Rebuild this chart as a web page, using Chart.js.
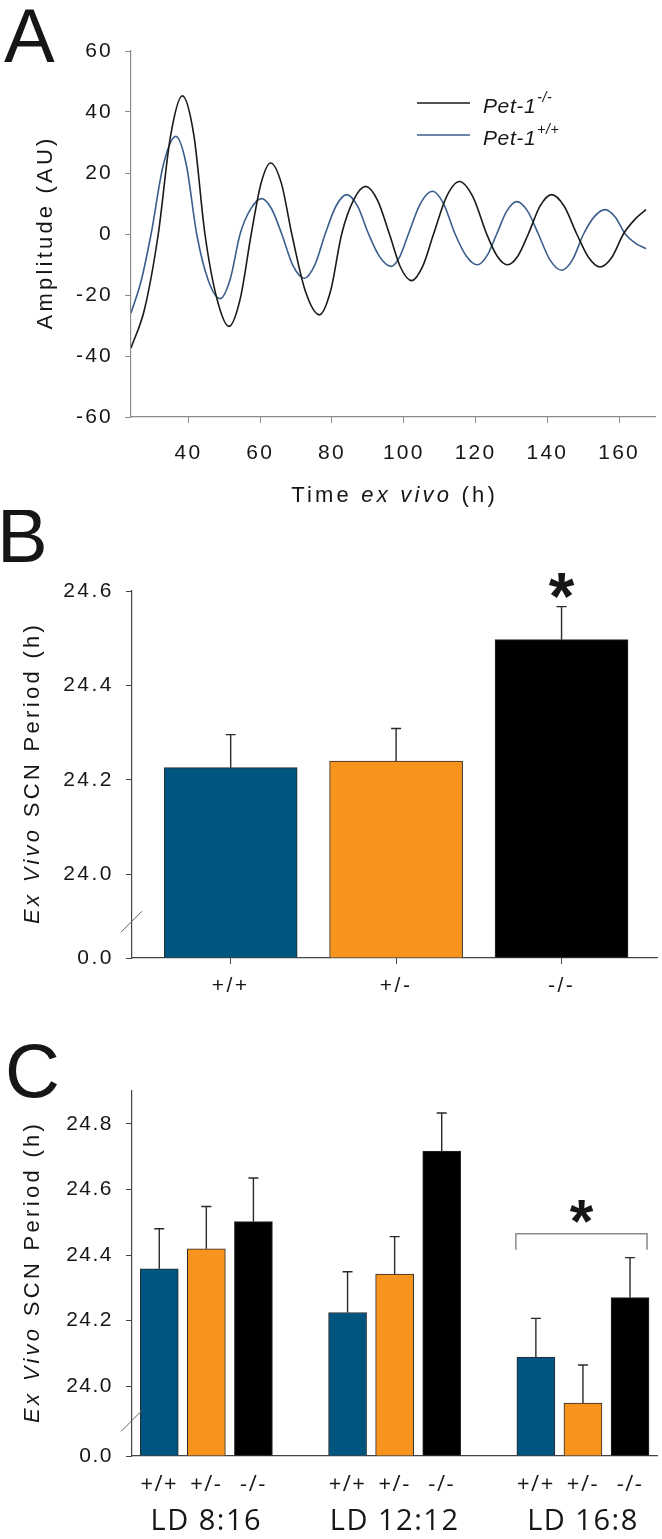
<!DOCTYPE html>
<html>
<head>
<meta charset="utf-8">
<script src="https://cdn.jsdelivr.net/npm/chart.js@4.4.1/dist/chart.umd.min.js"></script>
<style>
html,body{margin:0;padding:0;background:#fff;}
#wrap{position:relative;width:662px;height:1539px;overflow:hidden;}
.pnl{position:absolute;left:0;width:662px;}
canvas{display:block;}
</style>
</head>
<body>
<div id="wrap">
  <div class="pnl" style="top:0;height:510px"><canvas id="cA" width="662" height="510"></canvas></div>
  <div class="pnl" style="top:510px;height:500px"><canvas id="cB" width="662" height="500"></canvas></div>
  <div class="pnl" style="top:1010px;height:529px"><canvas id="cC" width="662" height="529"></canvas></div>
</div>
<script>
// ---------------- Panel A data ----------------
const aTimeKO = [24.0, 27.8, 31.6, 35.0, 38.3, 41.5, 44.6, 48.0, 51.3, 54.4, 57.5, 60.2, 62.9, 65.9, 68.8, 72.6, 76.5, 79.6, 82.7, 86.0, 89.4, 92.7, 96.0, 99.1, 102.2, 105.2, 108.3, 111.9, 115.5, 119.3, 123.1, 126.0, 128.9, 131.8, 134.7, 138.0, 141.2, 144.7, 148.2, 151.5, 154.7, 158.0, 161.2, 164.4, 167.5];
const aAmpKO  = [-37.4, -24.5, 0, 32.0, 45.3, 32.5, 0, -21.5, -30.3, -21.4, 0, 16.5, 23.3, 16.6, 0, -18.8, -26.5, -18.7, 0, 11.1, 15.6, 11.0, 0, -10.9, -15.3, -10.8, 0, 12.2, 17.2, 12.1, 0, -7.2, -10.1, -7.2, 0, 9.2, 12.9, 9.1, 0, -7.7, -10.8, -7.6, 0, 4.8, 8.0];
const aTimeWT = [24.0, 26.8, 29.6, 33.0, 36.5, 39.4, 42.3, 45.5, 48.8, 51.6, 54.4, 57.4, 60.4, 63.2, 66.0, 69.1, 72.3, 75.2, 78.1, 81.1, 84.1, 87.1, 90.2, 93.3, 96.5, 98.9, 101.3, 104.6, 108.0, 111.1, 114.3, 117.4, 120.5, 123.2, 125.9, 128.7, 131.5, 134.5, 137.5, 140.7, 144.0, 147.0, 150.1, 153.1, 156.1, 158.9, 161.7, 164.6, 167.5];
const aAmpWT  = [-25.9, -15.5, 0, 22.6, 32.0, 22.8, 0, -15.1, -21.2, -15.0, 0, 8.3, 11.6, 8.2, 0, -10.3, -14.5, -10.2, 0, 9.1, 12.9, 9.2, 0, -7.5, -10.6, -7.4, 0, 9.9, 14.0, 9.9, 0, -7.2, -10.1, -7.1, 0, 7.5, 10.6, 7.5, 0, -8.4, -11.9, -8.5, 0, 5.7, 8.0, 5.6, 0, -3.1, -4.8];
const aXTicks = [40, 60, 80, 100, 120, 140, 160];
const aYTicks = [-60, -40, -20, 0, 20, 40, 60];
const aSeriesNames = ['Pet-1', 'Pet-1'];
const aSeriesSup = ['-/-', '+/+'];

// ---------------- Panel B data ----------------
const genotypes = ['+/+', '+/-', '-/-'];
const bPeriod = [24.226, 24.240, 24.497];
const bSem = [0.070, 0.069, 0.070];
const bYTicks = [24.0, 24.2, 24.4, 24.6];
const bBreakBase = 23.823;      // value shown as "0.0" at the broken axis bottom
const bStarBars = [2];          // bars marked significant

// ---------------- Panel C data ----------------
const cGroups = ['LD 8:16', 'LD 12:12', 'LD 16:8'];
const cPeriodWT  = [24.358, 24.225, 24.089];
const cPeriodHet = [24.419, 24.342, 23.949];
const cPeriodKO  = [24.502, 24.717, 24.270];
const cSemWT  = [0.122, 0.124, 0.118];
const cSemHet = [0.129, 0.114, 0.116];
const cSemKO  = [0.133, 0.116, 0.122];
const cYTicks = [24.0, 24.2, 24.4, 24.6, 24.8];
const cBreakBase = 23.7875;
const cYMax = 24.9;
const cStarGroup = 2;
const breakTickLabel = '0.0';

// ---------------- styles ----------------
const FONT = "'Liberation Sans', Arial, Helvetica, sans-serif";
const FONT_C = "'Open Sans', 'Noto Sans', sans-serif";
const genoColors = ['#005580', '#f7941e', '#000000'];
const TXT = '#161616';
Chart.defaults.font.family = FONT;
Chart.defaults.color = TXT;

function drawSegs(ctx, segs, x, y, rot, spacing) {
  ctx.save();
  ctx.translate(x, y);
  if (rot) ctx.rotate(rot);
  ctx.letterSpacing = spacing + 'px';
  ctx.textBaseline = 'alphabetic';
  ctx.textAlign = 'left';
  ctx.fillStyle = TXT;
  let total = 0;
  for (const s of segs) { ctx.font = s.font; s.w = ctx.measureText(s.text).width; total += s.w; }
  total -= spacing;
  let cx = -total / 2;
  for (const s of segs) { ctx.font = s.font; ctx.fillText(s.text, cx, 0); cx += s.w; }
  ctx.restore();
}

function drawAsterisk(ctx, cx, cy, h) {
  ctx.save();
  ctx.letterSpacing = '0px';
  ctx.font = `bold 100px ${FONT}`;
  const m = ctx.measureText('*');
  const gh = m.actualBoundingBoxAscent + m.actualBoundingBoxDescent;
  const size = 100 * h / gh;
  ctx.font = `bold ${size}px ${FONT}`;
  const m2 = ctx.measureText('*');
  ctx.textAlign = 'center';
  ctx.textBaseline = 'alphabetic';
  ctx.fillStyle = TXT;
  ctx.fillText('*', cx, cy + (m2.actualBoundingBoxAscent - m2.actualBoundingBoxDescent) / 2);
  ctx.restore();
}

const spacingPlugin = {
  id: 'spacing',
  beforeUpdate(chart, a, o) { chart.ctx.letterSpacing = o.px + 'px'; },
  beforeDraw(chart, a, o) { chart.ctx.letterSpacing = o.px + 'px'; }
};

const panelTextPlugin = {
  id: 'panelText',
  afterDraw(chart, a, o) {
    const ctx = chart.ctx, ca = chart.chartArea;
    if (o.letter) {
      ctx.save();
      ctx.letterSpacing = '0px';
      ctx.font = `76px ${FONT}`;
      ctx.fillStyle = TXT;
      ctx.textBaseline = 'alphabetic';
      ctx.textAlign = 'left';
      ctx.fillText(o.letter.text, o.letter.x, o.letter.y);
      ctx.restore();
    }
    if (o.yTitle) drawSegs(ctx, o.yTitle.segs, o.yTitle.x, (ca.top + ca.bottom) / 2, -Math.PI / 2, o.spacing);
    if (o.xTitle) drawSegs(ctx, o.xTitle.segs, (ca.left + ca.right) / 2, o.xTitle.y, 0, o.spacing);
    if (o.brk) {
      const ys = chart.scales.y;
      const yb = ys.bottom - o.brk.frac * (ys.bottom - ys.getPixelForValue(o.brk.upper));
      const x0 = ys.right;
      ctx.save();
      ctx.strokeStyle = '#666';
      ctx.lineWidth = 1;
      ctx.beginPath();
      ctx.moveTo(x0 - 11, yb + 11);
      ctx.lineTo(x0 + 10, yb - 10);
      ctx.stroke();
      ctx.restore();
    }
  }
};

const seriesLegendPlugin = {
  id: 'seriesLegend',
  afterDraw(chart, a, o) {
    const ctx = chart.ctx;
    chart.data.datasets.forEach((ds, i) => {
      const y = o.y + i * o.gap;
      ctx.save();
      ctx.strokeStyle = ds.borderColor;
      ctx.lineWidth = ds.borderWidth;
      ctx.beginPath();
      ctx.moveTo(o.x, y);
      ctx.lineTo(o.x + o.len, y);
      ctx.stroke();
      ctx.letterSpacing = '0.6px';
      ctx.fillStyle = TXT;
      ctx.textBaseline = 'alphabetic';
      ctx.textAlign = 'left';
      ctx.font = `italic 21px ${FONT}`;
      const tx = o.x + o.len + o.textGap;
      ctx.fillText(ds.name, tx, y + 10);
      const w = ctx.measureText(ds.name).width;
      ctx.font = `italic 14px ${FONT}`;
      ctx.fillText(ds.sup, tx + w + 1, y - 1);
      ctx.restore();
    });
  }
};

const statsPlugin = {
  id: 'stats',
  afterDatasetsDraw(chart, a, o) {
    const ctx = chart.ctx, ys = chart.scales.y;
    const ds = chart.data.datasets[0], meta = chart.getDatasetMeta(0);
    const tops = [];
    ctx.save();
    ctx.strokeStyle = '#2a2a2a';
    ctx.lineWidth = 1.4;
    meta.data.forEach((el, i) => {
      const yTop = ys.getPixelForValue(ds.data[i].y + ds.errors[i]);
      tops.push(yTop);
      ctx.beginPath();
      ctx.moveTo(el.x, el.y);
      ctx.lineTo(el.x, yTop);
      ctx.moveTo(el.x - o.cap, yTop);
      ctx.lineTo(el.x + o.cap, yTop);
      ctx.stroke();
    });
    ctx.restore();
    (o.stars || []).forEach(i => drawAsterisk(ctx, meta.data[i].x, tops[i] - o.starGap, o.starSize));
    if (o.bracket) {
      const idx = o.bracket;
      const e0 = meta.data[idx[0]], e1 = meta.data[idx[idx.length - 1]];
      const left = e0.x - e0.width / 2 - 1, right = e1.x + e1.width / 2 - 2;
      const topMin = Math.min(...idx.map(i => tops[i]));
      const yb = topMin - 24;
      ctx.save();
      ctx.strokeStyle = '#8a8a8a';
      ctx.lineWidth = 1.5;
      ctx.beginPath();
      ctx.moveTo(left, yb + 16);
      ctx.lineTo(left, yb);
      ctx.lineTo(right, yb);
      ctx.lineTo(right, yb + 16);
      ctx.stroke();
      ctx.restore();
      drawAsterisk(ctx, (left + right) / 2, yb - 22, 23);
    }
  }
};

function fixedTicks(values) { return s => { s.ticks = values.map(v => ({ value: v })); }; }

// ---------------- Chart A ----------------
new Chart(document.getElementById('cA'), {
  type: 'line',
  data: {
    datasets: [
      { label: 'Pet-1 -/-', name: aSeriesNames[0], sup: aSeriesSup[0],
        data: aTimeKO.map((x, i) => ({ x, y: aAmpKO[i] })),
        borderColor: '#1a1a1a', borderWidth: 1.6, pointRadius: 0,
        cubicInterpolationMode: 'monotone', fill: false },
      { label: 'Pet-1 +/+', name: aSeriesNames[1], sup: aSeriesSup[1],
        data: aTimeWT.map((x, i) => ({ x, y: aAmpWT[i] })),
        borderColor: '#3b5e8c', borderWidth: 1.6, pointRadius: 0,
        cubicInterpolationMode: 'monotone', fill: false }
    ]
  },
  options: {
    responsive: false, animation: false, devicePixelRatio: 1,
    layout: { padding: { top: 51, right: 7, left: 0, bottom: 0 } },
    plugins: {
      legend: { display: false }, tooltip: { enabled: false },
      spacing: { px: 2.2 },
      panelText: {
        spacing: 3.2,
        letter: { text: 'A', x: 4, y: 62 },
        yTitle: { x: 52, segs: [{ text: 'Amplitude (AU)', font: `22px ${FONT}` }] },
        xTitle: { y: 502, segs: [
          { text: 'Time ', font: `22px ${FONT}` },
          { text: 'ex vivo', font: `italic 22px ${FONT}` },
          { text: ' (h)', font: `22px ${FONT}` }] }
      },
      seriesLegend: { x: 417, y: 103, gap: 32, len: 53, textGap: 13 }
    },
    scales: {
      x: {
        type: 'linear', min: 24, max: 170, bounds: 'data', offset: false,
        afterBuildTicks: fixedTicks(aXTicks),
        afterFit: s => { s.height = 510 - 417; },
        grid: { drawOnChartArea: false, drawTicks: true, tickLength: 6, color: '#8a8a8a', offset: false },
        border: { color: '#8a8a8a', width: 1.2 },
        ticks: { padding: 18, font: { size: 21 }, color: TXT, maxRotation: 0, autoSkip: false }
      },
      y: {
        type: 'linear', min: -60, max: 60, bounds: 'data',
        afterBuildTicks: fixedTicks(aYTicks),
        afterFit: s => { s.width = 131; },
        grid: { drawOnChartArea: false, drawTicks: true, tickLength: 6, color: '#8a8a8a' },
        border: { color: '#8a8a8a', width: 1.2 },
        ticks: { padding: 12, font: { size: 21 }, color: TXT, autoSkip: false }
      }
    }
  },
  plugins: [spacingPlugin, panelTextPlugin, seriesLegendPlugin]
});

// ---------------- Chart B ----------------
const bYTickValues = [bBreakBase].concat(bYTicks);
new Chart(document.getElementById('cB'), {
  type: 'bar',
  data: {
    datasets: [{
      label: 'Ex Vivo SCN Period',
      data: bPeriod.map((v, i) => ({ x: i, y: v })),
      errors: bSem,
      backgroundColor: genoColors,
      borderColor: '#2a2a2a', borderWidth: 1,
      barThickness: 133, base: bBreakBase
    }]
  },
  options: {
    responsive: false, animation: false, devicePixelRatio: 1,
    layout: { padding: { top: 81, right: 5, left: 0, bottom: 0 } },
    plugins: {
      legend: { display: false }, tooltip: { enabled: false },
      spacing: { px: 2.5 },
      panelText: {
        spacing: 3.3,
        letter: { text: 'B', x: -3, y: 52 },
        yTitle: { x: 39, segs: [
          { text: 'Ex Vivo', font: `italic 22px ${FONT}` },
          { text: ' SCN Period (h)', font: `22px ${FONT}` }] },
        brk: { frac: 0.44, upper: bYTicks[0] }
      },
      stats: { cap: 5, stars: bStarBars, starGap: 21, starSize: 25 }
    },
    scales: {
      x: {
        type: 'linear', min: -0.5965, max: 2.577, bounds: 'data', offset: false,
        afterBuildTicks: fixedTicks(genotypes.map((g, i) => i)),
        afterFit: s => { s.height = 52; },
        grid: { drawOnChartArea: false, drawTicks: true, tickLength: 6, color: '#444', offset: false },
        border: { color: '#444', width: 1.2 },
        ticks: { padding: 10, font: { size: 21 }, color: TXT, maxRotation: 0, autoSkip: false,
                 callback: (v, i) => genotypes[i] }
      },
      y: {
        type: 'linear', min: bBreakBase, max: bYTicks[bYTicks.length - 1], bounds: 'data',
        afterBuildTicks: fixedTicks(bYTickValues),
        afterFit: s => { s.width = 132; },
        grid: { drawOnChartArea: false, drawTicks: true, tickLength: 6, color: '#444' },
        border: { color: '#444', width: 1.2 },
        ticks: { padding: 12, font: { size: 21 }, color: TXT, autoSkip: false,
                 callback: (v, i) => i === 0 ? breakTickLabel : bYTickValues[i].toFixed(1) }
      }
    }
  },
  plugins: [spacingPlugin, panelTextPlugin, statsPlugin]
});

// ---------------- Chart C ----------------
const cValues = [cPeriodWT, cPeriodHet, cPeriodKO];
const cSems = [cSemWT, cSemHet, cSemKO];
const slotsPerGroup = genotypes.length + 1;
const cData = [], cErr = [], cColors = [], cLabels = [];
cGroups.forEach((g, gi) => genotypes.forEach((gt, ki) => {
  cData.push({ x: gi * slotsPerGroup + ki, y: cValues[ki][gi] });
  cErr.push(cSems[ki][gi]);
  cColors.push(genoColors[ki]);
  cLabels.push(gt);
}));
const cGroupCenters = cGroups.map((g, gi) => gi * slotsPerGroup + (genotypes.length - 1) / 2);
const cYTickValues = [cBreakBase].concat(cYTicks);
const cXMin = -0.579, cXMax = 10.573;

new Chart(document.getElementById('cC'), {
  type: 'bar',
  data: {
    datasets: [{
      label: 'Ex Vivo SCN Period',
      data: cData,
      errors: cErr,
      backgroundColor: cColors,
      borderColor: '#2a2a2a', borderWidth: 1,
      barThickness: 38, base: cBreakBase
    }]
  },
  options: {
    responsive: false, animation: false, devicePixelRatio: 1,
    layout: { padding: { top: 81, right: 5, left: 0, bottom: 0 } },
    plugins: {
      legend: { display: false }, tooltip: { enabled: false },
      spacing: { px: 1.5 },
      panelText: {
        spacing: 3.3,
        letter: { text: 'C', x: 5, y: 87 },
        yTitle: { x: 39, segs: [
          { text: 'Ex Vivo', font: `italic 22px ${FONT}` },
          { text: ' SCN Period (h)', font: `22px ${FONT}` }] },
        brk: { frac: 0.51, upper: cYTicks[0] }
      },
      stats: { cap: 5, bracket: genotypes.map((g, k) => cStarGroup * genotypes.length + k) }
    },
    scales: {
      x: {
        type: 'linear', min: cXMin, max: cXMax, bounds: 'data', weight: 0, offset: false,
        afterBuildTicks: fixedTicks(cData.map(d => d.x)),
        afterFit: s => { s.height = 40; },
        grid: { display: false, drawTicks: false, offset: false },
        border: { color: '#444', width: 1.2 },
        ticks: { padding: 16, font: { size: 22, family: FONT_C }, color: TXT, maxRotation: 0, autoSkip: false,
                 callback: (v, i) => cLabels[i] }
      },
      x2: {
        type: 'linear', position: 'bottom', min: cXMin, max: cXMax, bounds: 'data', weight: 1, offset: false,
        afterBuildTicks: fixedTicks(cGroupCenters),
        afterFit: s => { s.height = 43; },
        grid: { display: false, drawTicks: false, offset: false },
        border: { display: false },
        ticks: { padding: 8, font: { size: 29, family: FONT_C }, color: TXT, maxRotation: 0, autoSkip: false,
                 callback: (v, i) => cGroups[i] }
      },
      y: {
        type: 'linear', min: cBreakBase, max: cYMax, bounds: 'data',
        afterBuildTicks: fixedTicks(cYTickValues),
        afterFit: s => { s.width = 132; },
        grid: { drawOnChartArea: false, drawTicks: true, tickLength: 6, color: '#444' },
        border: { color: '#444', width: 1.2 },
        ticks: { padding: 13, font: { size: 21 }, color: TXT, autoSkip: false,
                 callback: (v, i) => i === 0 ? breakTickLabel : cYTickValues[i].toFixed(1) }
      }
    }
  },
  plugins: [spacingPlugin, panelTextPlugin, statsPlugin]
});
</script>
</body>
</html>
